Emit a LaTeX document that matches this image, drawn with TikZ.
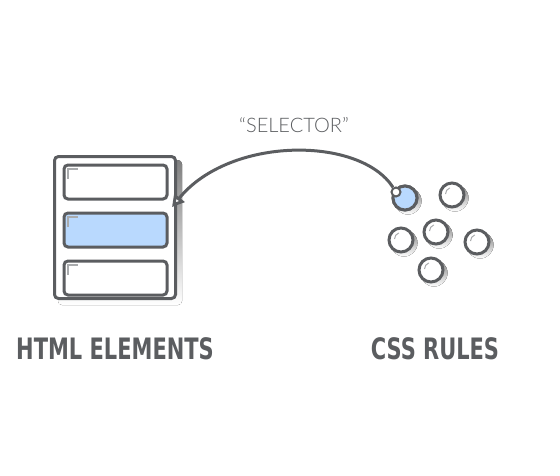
\documentclass[tikz,border=0pt]{standalone}
\usepackage{fontspec}
\usepackage{tikz}
\usetikzlibrary{positioning,arrows.meta,calc}
\setmainfont{DejaVu Sans}
\newfontfamily\headfont[FakeStretch=0.79]{DejaVu Sans Condensed Bold}
\newfontfamily\lightfont{Lato Light}

\definecolor{ink}{HTML}{5B5D60}
\definecolor{pick}{HTML}{B9D9FE}
\definecolor{shade}{HTML}{E3E3E3}
\definecolor{glint}{HTML}{A9ABAD}

\tikzset{
  pagebox/.style={draw=ink, line width=3pt, rounded corners=4pt, fill=white,
    minimum width=121pt, minimum height=142pt, inner sep=0pt},
  rowbox/.style={draw=ink, line width=3pt, rounded corners=4pt, fill=white,
    minimum width=103pt, minimum height=34pt, inner sep=0pt},
  rule/.style={circle, draw=ink, line width=3pt, fill=white,
    minimum size=24pt, inner sep=0pt},
  caption/.style={text=ink, font=\headfont\fontsize{29.5}{29.5}\selectfont},
}

\begin{document}
\begin{tikzpicture}[x=1pt, y=-1pt]
  \useasboundingbox (0,0) rectangle (560,475);

  % html side
  \fill[shade, rounded corners=4pt] (58,160) rectangle (182,305);
  \node[pagebox] (page) at (115,227.5) {};
  \node[rowbox] (row1) at (115.5,182) {};
  \node[rowbox, fill=pick] (row2) [below=11pt of row1] {};
  \node[rowbox] (row3) [below=11pt of row2] {};
  \foreach \r in {row1,row2,row3}
    \draw[glint, line width=1.3pt] ($(\r.north west)+(5.5,15)$) -- ($(\r.north west)+(5.5,5.5)$) -- ($(\r.north west)+(15,5.5)$);

  % css side
  \foreach \n/\x/\y in {c1/405/198, c2/452/195, c3/401/240, c4/436/232, c5/477/242, c6/431/270} {
    \fill[shade] (\x+3,\y+3) circle (13.5);
    \node[rule] (\n) at (\x,\y) {};
    \draw[glint, line width=1pt] ($(\n)+(-6.5,-1)$) arc (180:250:6.5);
  }
  \node[rule, fill=pick] at (c1) {};
  \node[circle, draw=ink, line width=2pt, fill=white, minimum size=9pt, inner sep=0pt] (sel) at (396,192) {};

  % selector arrow
  \coordinate (tip) at (172,207);
  \draw[ink, line width=3pt, -{Triangle[open, fill=white, length=12pt, width=13pt]}]
    (sel) .. controls (360,136) and (230,136) .. (tip);
  \node[text=ink, font=\lightfont\fontsize{20}{20}\selectfont] (selector) at (294,125) {“SELECTOR”};

  \node[caption] (html) at (115,349) {HTML ELEMENTS};
  \node[caption] (css) at (435,349) {CSS RULES};

\end{tikzpicture}
\end{document}
